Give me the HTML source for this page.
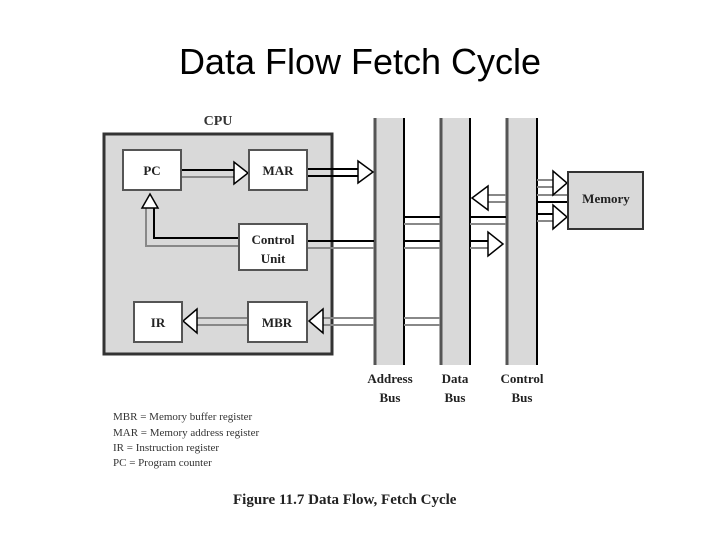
<!DOCTYPE html>
<html><head><style>
body{margin:0;background:#fff;width:720px;height:540px;overflow:hidden}
svg text{font-family:"Liberation Serif",serif}
</style></head><body>
<svg width="720" height="540" viewBox="0 0 720 540">
<text x="360" y="74" text-anchor="middle" style="font-family:'Liberation Sans',sans-serif" font-size="36" fill="#000">Data Flow Fetch Cycle</text>
<text x="218" y="125" text-anchor="middle" font-size="14" font-weight="bold" fill="#333">CPU</text>
<rect x="104" y="134" width="228" height="220" fill="#d9d9d9" stroke="#333" stroke-width="3"/>
<!-- buses -->
<g fill="#d9d9d9">
<rect x="374" y="118" width="30" height="247"/><rect x="440" y="118" width="30" height="247"/><rect x="506" y="118" width="31" height="247"/>
</g>
<g stroke="#555" stroke-width="3">
<line x1="375" y1="118" x2="375" y2="365"/><line x1="441" y1="118" x2="441" y2="365"/><line x1="507" y1="118" x2="507" y2="365"/>
</g>
<g stroke="#000" stroke-width="2">
<line x1="404" y1="118" x2="404" y2="365"/><line x1="470" y1="118" x2="470" y2="365"/><line x1="537" y1="118" x2="537" y2="365"/>
</g>
<!-- connectors -->
<g stroke-width="2" fill="none">
<!-- PC->MAR -->
<line x1="181" y1="170" x2="236" y2="170" stroke="#000"/><line x1="181" y1="177" x2="236" y2="177" stroke="#888"/>
<!-- MAR->addr -->
<line x1="307" y1="169" x2="360" y2="169" stroke="#000"/><line x1="307" y1="176" x2="360" y2="176" stroke="#000"/>
<!-- CU to PC -->
<path d="M239 238 H154 V207" stroke="#000"/><path d="M239 246 H146 V207" stroke="#888"/>
<!-- CU right -->
<line x1="307" y1="241" x2="374" y2="241" stroke="#000"/><line x1="307" y1="248" x2="374" y2="248" stroke="#888"/>
<line x1="404" y1="241" x2="440" y2="241" stroke="#000"/><line x1="404" y1="248" x2="440" y2="248" stroke="#888"/>
<line x1="470" y1="241" x2="490" y2="241" stroke="#000"/><line x1="470" y1="248" x2="490" y2="248" stroke="#888"/>
<!-- addr->ctrl upper line -->
<line x1="404" y1="217" x2="440" y2="217" stroke="#000"/><line x1="404" y1="224" x2="440" y2="224" stroke="#888"/>
<line x1="470" y1="217" x2="506" y2="217" stroke="#000"/><line x1="470" y1="224" x2="506" y2="224" stroke="#888"/>
<!-- memory lines -->
<line x1="537" y1="180" x2="553" y2="180" stroke="#888"/><line x1="537" y1="187" x2="553" y2="187" stroke="#888"/>
<line x1="486" y1="195" x2="506" y2="195" stroke="#888"/><line x1="486" y1="202" x2="506" y2="202" stroke="#888"/>
<line x1="537" y1="195" x2="568" y2="195" stroke="#888"/><line x1="537" y1="202" x2="568" y2="202" stroke="#000"/>
<line x1="537" y1="214" x2="553" y2="214" stroke="#000"/><line x1="537" y1="221" x2="553" y2="221" stroke="#888"/>
<!-- MBR lines -->
<line x1="322" y1="318" x2="374" y2="318" stroke="#888"/><line x1="322" y1="325" x2="374" y2="325" stroke="#888"/>
<line x1="404" y1="318" x2="440" y2="318" stroke="#888"/><line x1="404" y1="325" x2="440" y2="325" stroke="#888"/>
<line x1="196" y1="318" x2="248" y2="318" stroke="#888"/><line x1="196" y1="325" x2="248" y2="325" stroke="#888"/>
</g>
<!-- arrowheads -->
<g fill="#fff" stroke="#000" stroke-width="1.5">
<polygon points="234,166 234,162 248,173 234,184 234,181"/>
<polygon points="358,165 358,161 373,172 358,183 358,180"/>
<polygon points="158,208 150,194 142,208"/>
<polygon points="488,237 488,232 503,244 488,256 488,252"/>
<polygon points="553,176 553,171 567,183 553,195 553,191"/>
<polygon points="553,210 553,205 567,217 553,229 553,225"/>
<polygon points="488,191 488,186 472,198 488,210 488,206"/>
<polygon points="323,314 323,309 309,321 323,333 323,329"/>
<polygon points="197,314 197,309 183,321 197,333 197,329"/>
</g>
<!-- boxes -->
<g fill="#fff" stroke="#555" stroke-width="2">
<rect x="123" y="150" width="58" height="40"/>
<rect x="249" y="150" width="58" height="40"/>
<rect x="239" y="224" width="68" height="46"/>
<rect x="134" y="302" width="48" height="40"/>
<rect x="248" y="302" width="59" height="40"/>
</g>
<rect x="568" y="172" width="75" height="57" fill="#d9d9d9" stroke="#333" stroke-width="2"/>
<g font-size="13" font-weight="bold" fill="#222" text-anchor="middle">
<text x="152" y="175">PC</text>
<text x="278" y="175">MAR</text>
<text x="273" y="244">Control</text>
<text x="273" y="263">Unit</text>
<text x="158" y="327">IR</text>
<text x="277" y="327">MBR</text>
<text x="606" y="203">Memory</text>
<text x="390" y="383">Address</text><text x="390" y="402">Bus</text>
<text x="455" y="383">Data</text><text x="455" y="402">Bus</text>
<text x="522" y="383">Control</text><text x="522" y="402">Bus</text>
</g>
<g font-size="11" fill="#333">
<text x="113" y="420">MBR = Memory buffer register</text>
<text x="113" y="436">MAR = Memory address register</text>
<text x="113" y="451">IR = Instruction register</text>
<text x="113" y="466">PC = Program counter</text>
</g>
<text x="233" y="504" font-size="15" font-weight="bold" fill="#222">Figure 11.7   Data Flow, Fetch Cycle</text>
</svg>
</body></html>
